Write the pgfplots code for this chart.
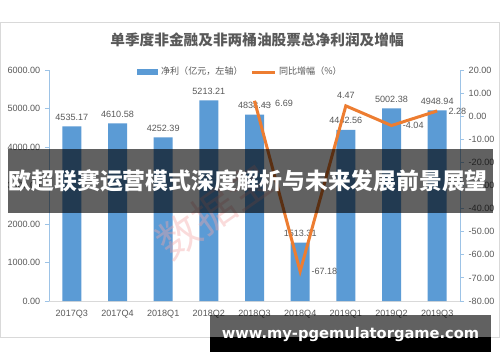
\documentclass[border=0pt]{standalone}
\usepackage{pgfplots}
\pgfplotsset{compat=1.18}
\usepackage{fontspec}
\setmainfont{Liberation Sans}
\newfontfamily\cjk{Noto Sans CJK SC}
\newfontfamily\urlfont{DejaVu Sans}
\definecolor{barblue}{HTML}{5B9BD5}
\definecolor{lineorange}{HTML}{ED7D31}
\definecolor{txtgray}{HTML}{595959}
\definecolor{axblue}{HTML}{9DC3E6}
\definecolor{framegray}{HTML}{D9D9D9}
\definecolor{pinkwm}{HTML}{F4A6A6}

\pgfplotsset{
  common/.style={
    at={(36.75pt,45.75pt)}, anchor=south west,
    scale only axis, width=308.25pt, height=173.25pt,
    xmin=-0.5, xmax=8.5,
    tick align=outside, major tick length=3pt,
    /pgf/number format/fixed,
    /pgf/number format/fixed zerofill,
    /pgf/number format/precision=2,
    /pgf/number format/1000 sep={},
    /pgf/number format/assume math mode=true,
    ticklabel style={font=\fontsize{6.8}{8}\selectfont, text=txtgray},
    every node near coord/.append style={font=\fontsize{6.8}{8}\selectfont, text=txtgray},
  }
}

\begin{document}
\begin{tikzpicture}
\useasboundingbox (0,0) rectangle (375pt,271.5pt);
\fill[white] (0,0) rectangle (375pt,271.5pt);
\draw[framegray, line width=0.75pt] (0.5pt,18.75pt) rectangle (374.5pt,255pt);
\node[text=txtgray] at (192.75pt,241.5pt) {\cjk\bfseries\fontsize{11}{13}\selectfont 单季度非金融及非两桶油股票总净利润及增幅};

\begin{axis}[common,
  ymin=0, ymax=6000,
  axis x line*=bottom, axis y line*=left,
  x axis line style={framegray, line width=0.75pt},
  y axis line style={axblue, line width=0.75pt},
  xtick={0,...,8},
  xticklabels={2017Q3,2017Q4,2018Q1,2018Q2,2018Q3,2018Q4,2019Q1,2019Q2,2019Q3},
  x tick style={draw=none},
  ytick={0,1000,...,6000},
  y tick style={axblue, line width=0.75pt},
  ybar, bar width=14.25pt,
  nodes near coords,
  nodes near coords style={yshift=1pt},
  legend columns=2,
  legend style={at={(0.467,0.991)}, anchor=center, draw=none, fill=none,
    font=\cjk\fontsize{6.8}{8}\selectfont, text=txtgray,
    /tikz/every even column/.append style={column sep=4pt}},
]
\addplot[fill=barblue, draw=none,
  legend image code/.code={\fill[barblue] (0pt,-2.3pt) rectangle (15.75pt,2.3pt);}]
  coordinates {(0,4535.17) (1,4610.58) (2,4252.39) (3,5213.21) (4,4838.43) (5,1513.31) (6,4442.56) (7,5002.38) (8,4948.94)};
\addlegendentry{净利（亿元，左轴）}
\addlegendimage{legend image code/.code={\draw[lineorange, line width=2.25pt] (0pt,0pt) -- (17pt,0pt);}}
\addlegendentry{同比增幅（\%）}
\end{axis}

\begin{axis}[common,
  ymin=-80, ymax=20,
  axis x line=none, axis y line*=right,
  y axis line style={axblue, line width=0.75pt},
  ytick={-80,-70,...,20},
  y tick style={axblue, line width=0.75pt},
]
\addplot[lineorange, line width=2.25pt, mark=none]
  coordinates {(4,6.69) (5,-67.18) (6,4.47) (7,-4.04) (8,2.28)};
\addplot[draw=none, mark=none, nodes near coords,
  every node near coord/.append style={anchor=west, xshift=5pt}]
  coordinates {(5,-67.18) (7,-4.04) (8,2.28)};
\addplot[draw=none, mark=none, nodes near coords,
  every node near coord/.append style={anchor=west, xshift=12pt, yshift=-2pt}]
  coordinates {(4,6.69)};
\addplot[draw=none, mark=none, nodes near coords,
  every node near coord/.append style={anchor=south, yshift=2pt}]
  coordinates {(6,4.47)};
\end{axis}

% leader line for 6.69
\draw[txtgray!60, line width=0.4pt] (197pt,193.5pt) -- (203.5pt,193.5pt);

% watermark
\node[text=pinkwm, opacity=0.4, rotate=35] at (160pt,113pt) {\cjk\fontsize{32}{34}\selectfont 数据宝};

% overlay banner
\fill[black, opacity=0.62] (6pt,111.75pt) rectangle (369.75pt,159.75pt);
\node[anchor=west, text=white, inner sep=0pt] at (6.5pt,135.75pt) {\cjk\bfseries\fontsize{17.1}{19}\selectfont 欧超联赛运营模式深度解析与未来发展前景展望};

% url box
\fill[black, opacity=0.62] (157.5pt,18.75pt) rectangle (368.25pt,35.25pt);
\fill[black] (157.5pt,7.5pt) rectangle (368.25pt,18.75pt);
\node[text=white] at (262.9pt,20.6pt) {\urlfont\bfseries\fontsize{11}{13}\selectfont www.my-pgemulatorgame.com};
\end{tikzpicture}
\end{document}
